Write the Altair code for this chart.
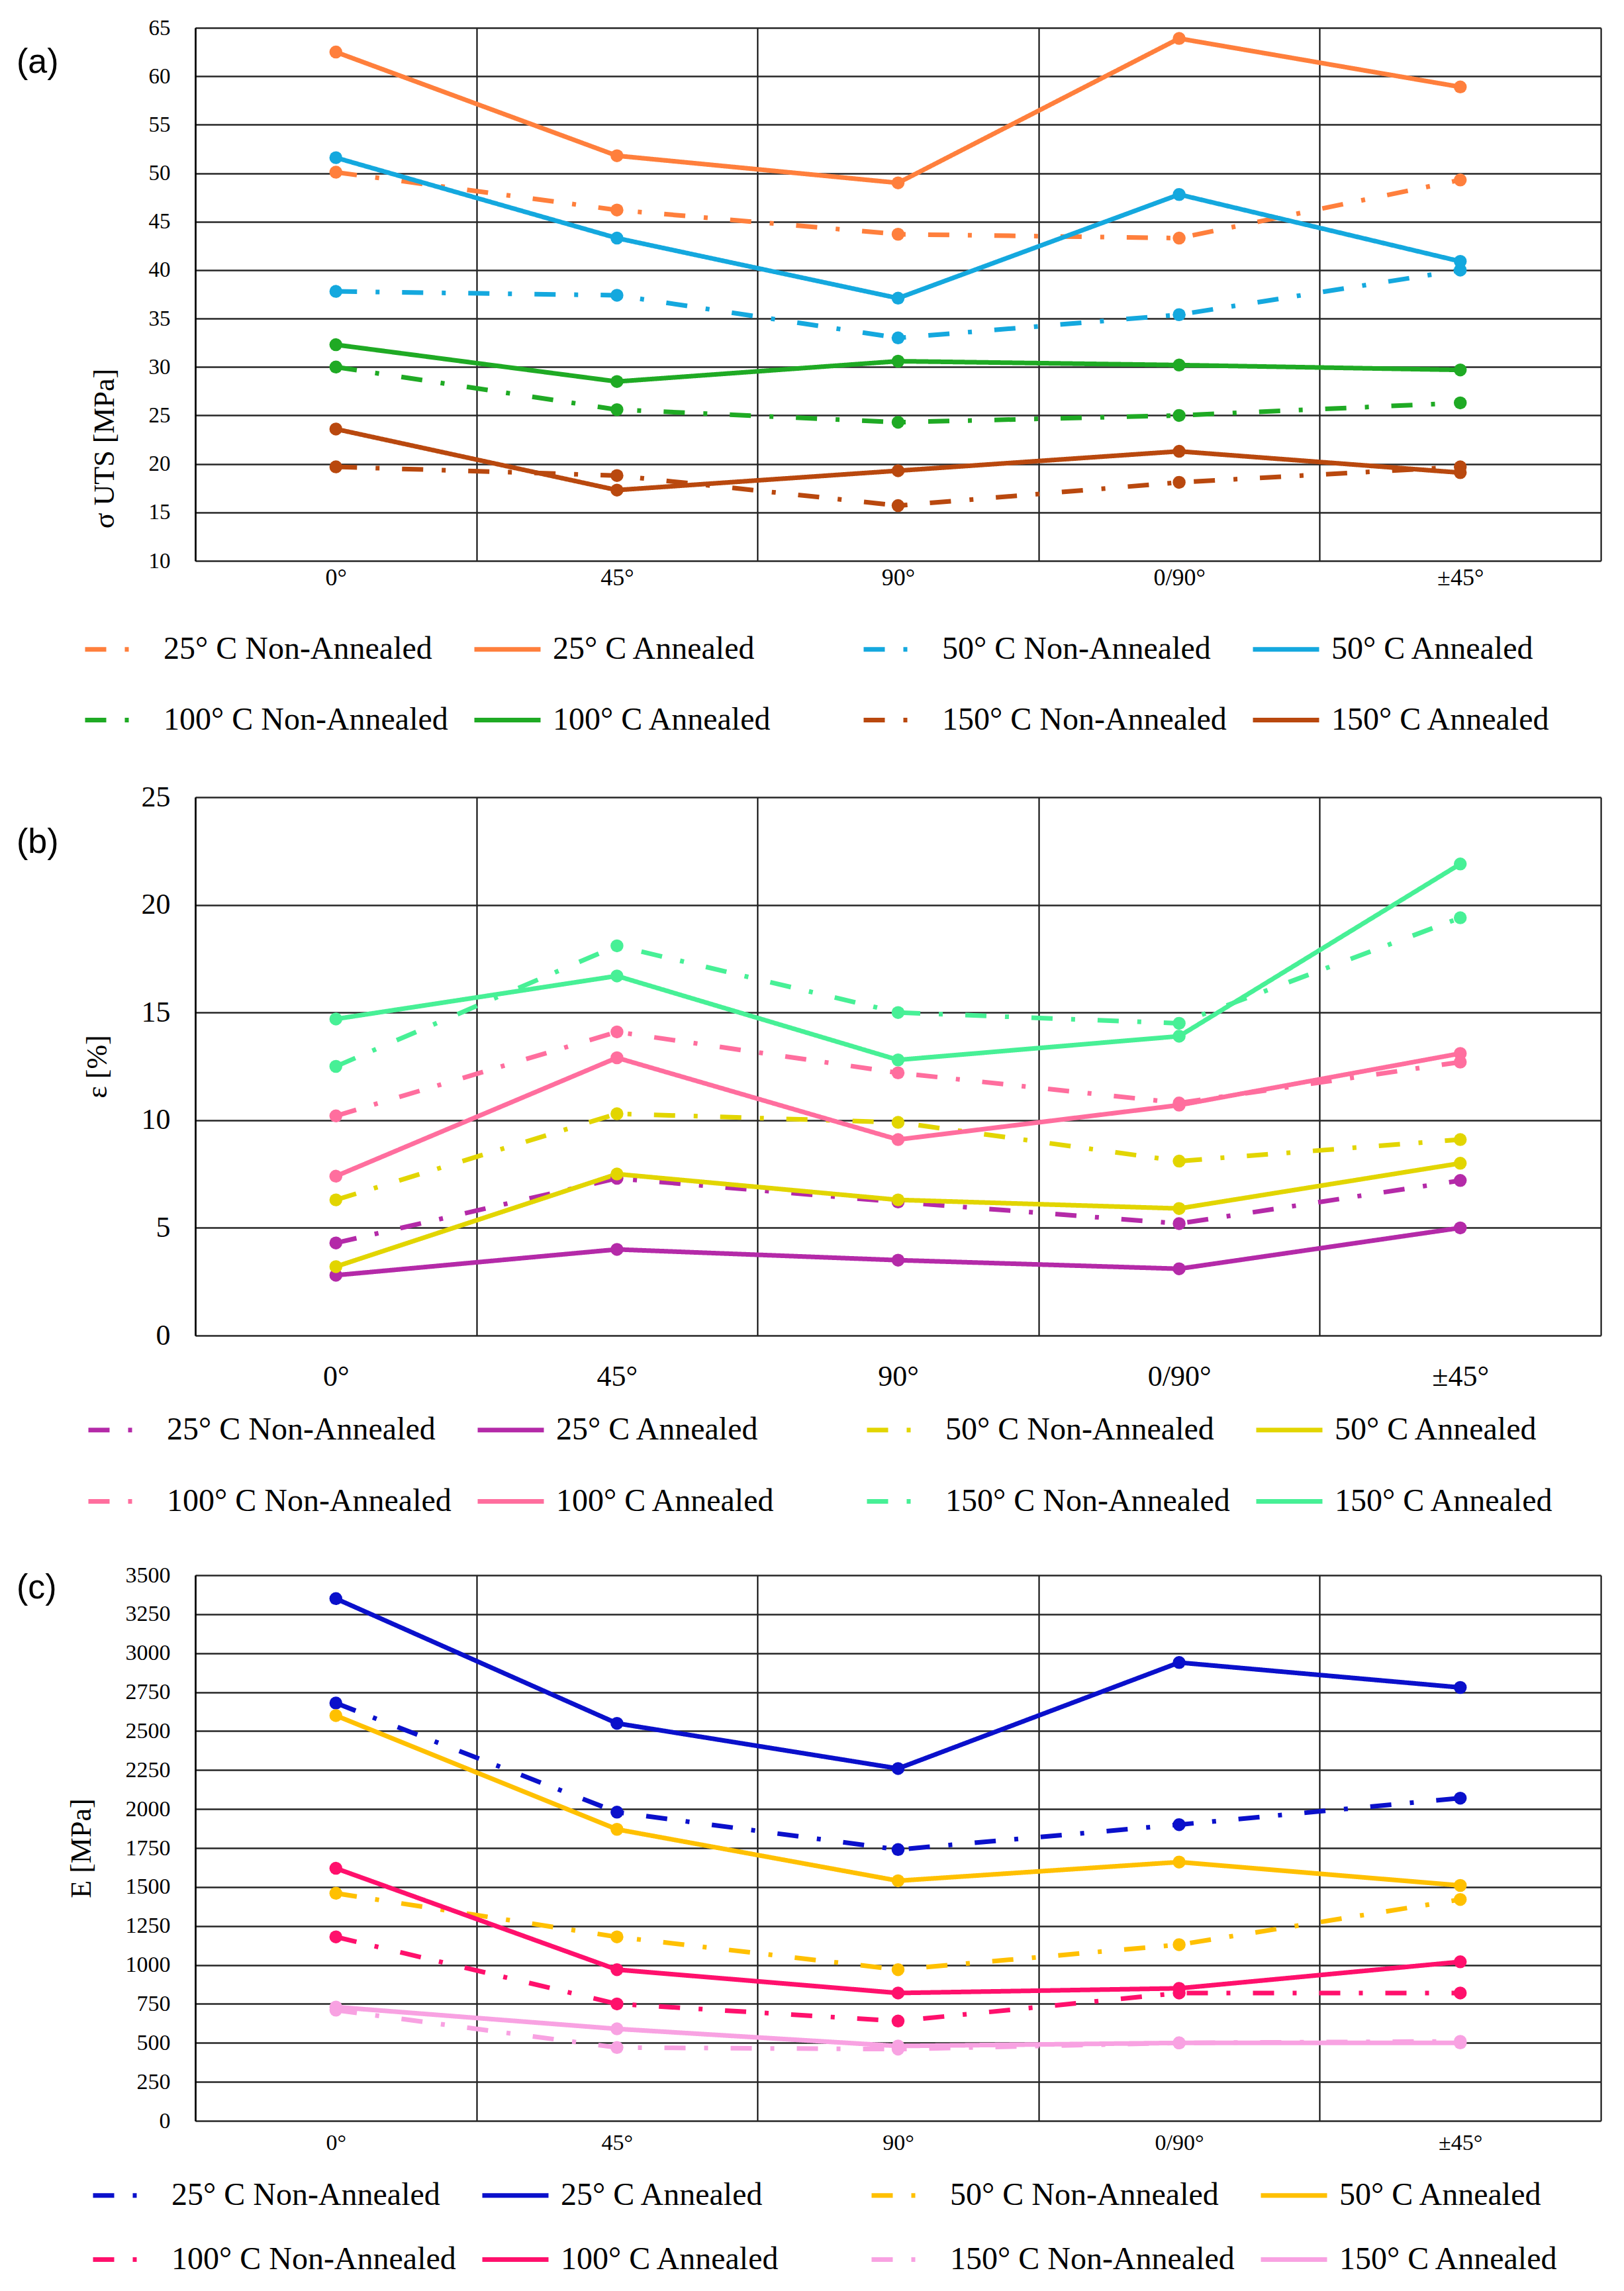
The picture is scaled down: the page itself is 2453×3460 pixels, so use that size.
import altair as alt
import pandas as pd

SERIF = "Liberation Serif"

ORIENT = ["0°", "45°", "90°", "0/90°", "±45°"]
SERIES = [
    "25° C Non-Annealed", "25° C Annealed",
    "50° C Non-Annealed", "50° C Annealed",
    "100° C Non-Annealed", "100° C Annealed",
    "150° C Non-Annealed", "150° C Annealed",
]

# (a) ultimate tensile strength [MPa]
uts_25_na = [50.1, 46.2, 43.7, 43.3, 49.3]
uts_25_a = [62.5, 51.8, 49.0, 63.9, 58.9]
uts_50_na = [37.8, 37.4, 33.0, 35.4, 40.0]
uts_50_a = [51.6, 43.3, 37.1, 47.8, 40.9]
uts_100_na = [30.0, 25.6, 24.3, 25.0, 26.3]
uts_100_a = [32.3, 28.5, 30.6, 30.2, 29.7]
uts_150_na = [19.7, 18.8, 15.7, 18.1, 19.7]
uts_150_a = [23.6, 17.3, 19.3, 21.3, 19.1]

# (b) strain at break [%]
eps_25_na = [4.3, 7.3, 6.2, 5.2, 7.2]
eps_25_a = [2.8, 4.0, 3.5, 3.1, 5.0]
eps_50_na = [6.3, 10.3, 9.9, 8.1, 9.1]
eps_50_a = [3.2, 7.5, 6.3, 5.9, 8.0]
eps_100_na = [10.2, 14.1, 12.2, 10.8, 12.7]
eps_100_a = [7.4, 12.9, 9.1, 10.7, 13.1]
eps_150_na = [12.5, 18.1, 15.0, 14.5, 19.4]
eps_150_a = [14.7, 16.7, 12.8, 13.9, 21.9]

# (c) elastic modulus [MPa]
mod_25_na = [2680, 1980, 1740, 1900, 2070]
mod_25_a = [3350, 2550, 2260, 2940, 2780]
mod_50_na = [1460, 1180, 970, 1130, 1420]
mod_50_a = [2600, 1870, 1540, 1660, 1510]
mod_100_na = [1180, 750, 640, 820, 820]
mod_100_a = [1620, 970, 820, 850, 1020]
mod_150_na = [710, 470, 460, 500, 510]
mod_150_a = [730, 590, 480, 500, 500]

COLORS_A = ["#FF7F3C", "#FF7F3C", "#14A8DE", "#14A8DE",
            "#1FAA24", "#1FAA24", "#B9480E", "#B9480E"]
COLORS_B = ["#B42AA8", "#B42AA8", "#E2D500", "#E2D500",
            "#FF6E9E", "#FF6E9E", "#47F096", "#47F096"]
COLORS_C = ["#0A10CB", "#0A10CB", "#FFC000", "#FFC000",
            "#FF106C", "#FF106C", "#F8A2E2", "#F8A2E2"]

DASH_DOT = [32, 28, 6, 34]
SOLID = [1, 0]
DASHES = [DASH_DOT, SOLID] * 4


def long_df(series_values):
    rows = []
    for name, vals in zip(SERIES, series_values):
        for o, v in zip(ORIENT, vals):
            rows.append({"orient": o, "series": name, "value": v})
    return pd.DataFrame(rows)


def panel(series_values, colors, ytitle, ydomain, ystep, tag, height,
          ylab_size, xlab_size, xlab_pad, leg_x, leg_y, leg_rowpad, tag_y,
          title_y=None):
    legend = alt.Legend(
        title=None, orient="none", legendX=leg_x, legendY=leg_y,
        direction="horizontal", columns=4, gridAlign="all",
        symbolType="stroke", symbolSize=10000, symbolStrokeWidth=7,
        labelFont=SERIF, labelFontSize=48, labelColor="black",
        labelOffset=15, labelLimit=700, columnPadding=25,
        rowPadding=leg_rowpad,
    )
    yaxis_extra = {} if title_y is None else {"titleY": title_y}
    lines = alt.Chart(long_df(series_values)).mark_line(
        strokeWidth=7,
        point=alt.OverlayMarkDef(filled=True, size=380, opacity=1),
    ).encode(
        x=alt.X(
            "orient:N", sort=ORIENT,
            scale=alt.Scale(type="band", paddingInner=0, paddingOuter=0),
            axis=alt.Axis(
                title=None, tickBand="extent", grid=True, gridColor="black",
                gridWidth=2, domain=False, ticks=False, labelAngle=0,
                labelFont=SERIF, labelFontSize=xlab_size, labelColor="black",
                labelPadding=xlab_pad,
            ),
        ),
        y=alt.Y(
            "value:Q",
            scale=alt.Scale(domain=ydomain, nice=False, zero=False),
            axis=alt.Axis(
                values=list(range(ydomain[0], ydomain[1] + 1, ystep)),
                format="d",
                grid=True, gridColor="#262626", gridWidth=2.5,
                domainColor="black", domainWidth=2.5, ticks=False,
                labelFont=SERIF, labelFontSize=ylab_size, labelColor="black",
                labelPadding=38, title=ytitle, titleFont=SERIF,
                titleFontSize=44, titleFontWeight="normal",
                titleColor="black", titlePadding=44, **yaxis_extra,
            ),
        ),
        color=alt.Color("series:N", sort=SERIES,
                        scale=alt.Scale(domain=SERIES, range=colors),
                        legend=legend),
        strokeDash=alt.StrokeDash("series:N", sort=SERIES,
                                  scale=alt.Scale(domain=SERIES, range=DASHES),
                                  legend=legend),
    )
    label = alt.Chart(pd.DataFrame({"tag": [tag]})).mark_text(
        font="Liberation Sans", fontSize=52, align="left", baseline="middle",
        color="black",
    ).encode(text="tag:N", x=alt.value(-270), y=alt.value(tag_y))
    return alt.layer(lines, label).properties(width=2123, height=height)


chart_a = panel(
    [uts_25_na, uts_25_a, uts_50_na, uts_50_a,
     uts_100_na, uts_100_a, uts_150_na, uts_150_a],
    COLORS_A, "σ UTS [MPa]", [10, 65], 5, "(a)", 805,
    33, 36, 8, -170, 885, 29, 52, title_y=635,
)
chart_b = panel(
    [eps_25_na, eps_25_a, eps_50_na, eps_50_a,
     eps_100_na, eps_100_a, eps_150_na, eps_150_a],
    COLORS_B, "ε [%]", [0, 25], 5, "(b)", 813,
    44, 44, 40, -165, 902, 30, 68,
)
chart_c = panel(
    [mod_25_na, mod_25_a, mod_50_na, mod_50_a,
     mod_100_na, mod_100_a, mod_150_na, mod_150_a],
    COLORS_C, "E [MPa]", [0, 3500], 250, "(c)", 824,
    34, 34, 16, -158, 883, 19, 19,
)

chart = alt.vconcat(chart_a, chart_b, chart_c, spacing=70).resolve_scale(
    color="independent", strokeDash="independent",
).resolve_legend(
    color="independent", strokeDash="independent",
).properties(
    padding={"left": 17, "top": 18, "right": 5, "bottom": 5},
).configure_view(stroke=None)

chart.save("out.html", embed_options={"renderer": "svg", "actions": False})
